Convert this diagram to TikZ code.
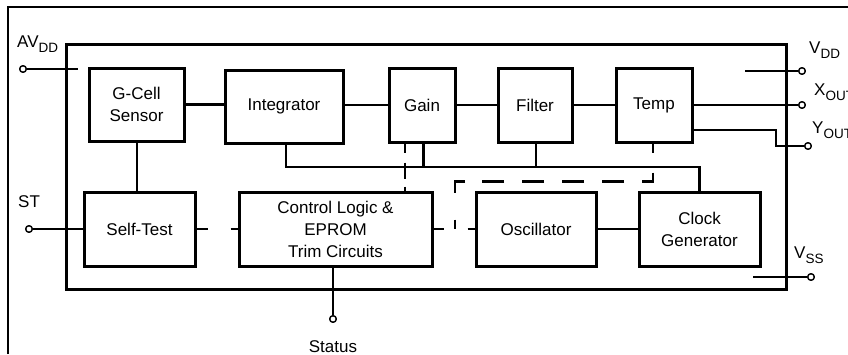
\documentclass[tikz,border=0pt]{standalone}
\usepackage{fontspec}
\setmainfont{Liberation Sans}
\newcommand{\lsub}[1]{\raisebox{-5pt}{\fontsize{13.5}{13.5}\selectfont #1}}
\begin{document}
\begin{tikzpicture}[x=1pt,y=-1pt,
  box/.style={draw, line width=3pt, minimum height=74pt, align=center, inner sep=0pt, font=\fontsize{17}{22}\selectfont},
  chipbox/.style={draw, line width=3pt, inner sep=0pt},
  wire/.style={line width=2.6pt},
  pinwire/.style={line width=2pt},
  term/.style={circle, draw, fill=white, line width=1.3pt, minimum size=6.5pt, inner sep=0pt},
  lbl/.style={inner sep=0pt, font=\fontsize{17}{20}\selectfont}
]
\useasboundingbox (0,0) rectangle (848,354);
% outer frame (partly visible)
\draw[line width=1.5pt] (8,354) -- (8,7) -- (848,7);
% chip
\node[chipbox, minimum width=720pt, minimum height=245pt] (chip) at (426,166.5) {};
% blocks
\node[box, minimum width=95pt, minimum height=73pt] (gcell) at (136.5,104.5) {G-Cell\\Sensor};
\node[box, minimum width=118pt, minimum height=73pt] (integ) at (284,106.5) {Integrator};
\node[box, minimum width=66pt] (gain) at (422,105) {Gain};
\node[box, minimum width=74pt] (filter) at (535,105) {Filter};
\node[box, minimum width=76pt] (temp) at (654,105) {\raisebox{3pt}{Temp}};
\node[box, minimum width=111pt] (selftest) at (139.5,229) {Self-Test};
\node[box, minimum width=193pt] (ctrl) at (335.5,229) {Control Logic \&\\EPROM\\Trim Circuits};
\node[box, minimum width=120pt] (osc) at (536,229) {Oscillator};
\node[box, minimum width=121pt] (clock) at (699.5,229) {Clock\\Generator};
% terminals
\node[term] (avdd) at (23,69) {};
\node[term] (st) at (29,229) {};
\node[term] (vdd) at (802,71) {};
\node[term] (xout) at (802,105) {};
\node[term] (yout) at (808,146) {};
\node[term] (vss) at (811,277) {};
\node[term] (status) at (333,319) {};
% coordinates
\coordinate (avddin) at (78,69);
\coordinate (vddin) at (745,71);
\coordinate (vssin) at (753,277);
\coordinate (ybend) at (776,130);
\coordinate (busR) at (699.5,167);
\coordinate (jn) at (455,229);
% solid wires
\draw[wire] (gcell.east) -- (gcell.east -| integ.west);
\draw[wire] (integ.east |- gain.west) -- (gain.west);
\draw[wire] (gain.east) -- (filter.west);
\draw[wire] (filter.east) -- (temp.west);
\draw[wire] ([xshift=0.5pt]gcell.south) -- ([xshift=0.5pt]gcell.south |- selftest.north);
\draw[wire] ([xshift=2pt]integ.south) |- (busR) -- (clock.north);
\draw[wire] ([xshift=1.5pt]gain.south) -- ([xshift=1.5pt]gain.south |- busR);
\draw[wire] ([xshift=1pt]filter.south) -- ([xshift=1pt]filter.south |- busR);
\draw[wire] (osc.east) -- (clock.west);
% dashed wires
\draw[wire, dash pattern=on 9pt off 10pt on 16pt off 8pt on 7pt] ([xshift=-17pt]gain.south) -- ([xshift=-17pt]gain.south |- ctrl.north);
\draw[wire, dash pattern=on 9pt off 20pt on 20pt off 18pt on 22pt off 18pt on 22pt off 18pt on 22pt off 18pt on 22pt off 17pt on 21pt off 27pt on 11pt off 20pt] ([xshift=-1pt]temp.south) -- ++(0,38) -| (jn);
\draw[wire, dash pattern=on 11pt off 23pt on 10pt off 20pt] (selftest.east) -- (ctrl.west);
\draw[wire, dash pattern=on 10pt off 24pt on 10pt off 20pt] (ctrl.east) -- (osc.west);
% pin wires
\draw[pinwire] (avdd.east) -- (avddin);
\draw[pinwire] (st.east) -- (selftest.west);
\draw[pinwire] (vddin) -- (vdd.west);
\draw[pinwire] (temp.east) -- (xout.west);
\draw[pinwire] ([yshift=-25pt]temp.east) -- (ybend) |- (yout.west);
\draw[pinwire] (vssin) -- (vss.west);
\draw[pinwire] (ctrl.south -| status) -- (status.north);
% redraw terminals on top
\foreach \t in {avdd,st,vdd,xout,yout,vss,status} \node[term] at (\t) {};
% labels
\node[lbl, anchor=base west] (lavdd) at (17,47) {AV\lsub{DD}};
\node[lbl, anchor=base west] (lvdd) at (809,53) {V\lsub{DD}};
\node[lbl, anchor=base west] (lxout) at (814,95) {X\lsub{OUT}};
\node[lbl, anchor=base west] (lyout) at (812,133) {Y\lsub{OUT}};
\node[lbl, anchor=base west] (lvss) at (794,258) {V\lsub{SS}};
\node[lbl, anchor=base west] (lst) at (18,207) {ST};
\node[lbl, anchor=base] (lstatus) at (333,352) {Status};
\end{tikzpicture}
\end{document}
